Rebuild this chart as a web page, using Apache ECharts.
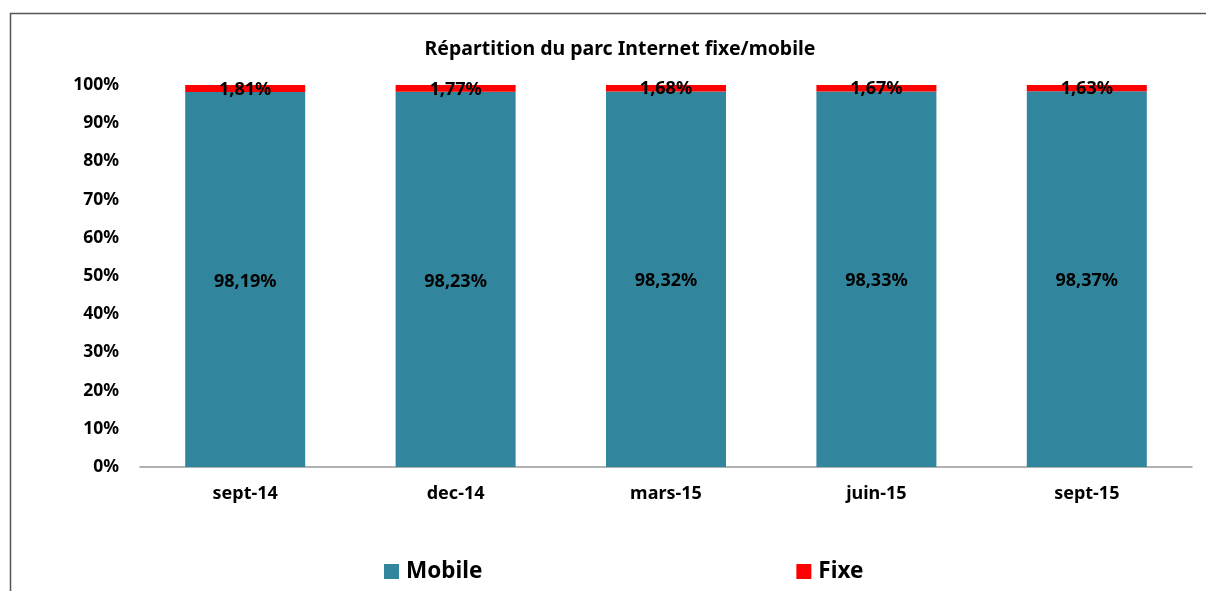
<!DOCTYPE html>
<html>
<head>
<meta charset="utf-8">
<script src="https://cdn.jsdelivr.net/npm/echarts@6/dist/echarts.min.js"></script>
<style>
  html, body { margin: 0; padding: 0; background: #fff; }
  #main { width: 1206px; height: 591px; }
</style>
</head>
<body>
<div id="main"></div>
<script>
// données
var categories = ['sept-14', 'dec-14', 'mars-15', 'juin-15', 'sept-15'];
var mobile = [98.19, 98.23, 98.32, 98.33, 98.37];
var fixe = [1.81, 1.77, 1.68, 1.67, 1.63];
var yTicks = [0, 10, 20, 30, 40, 50, 60, 70, 80, 90, 100];

var font = '"Noto Sans", "Open Sans", sans-serif';

function pct(v) {
    return v.toFixed(2).replace('.', ',') + '%';
}

var option = {
    animation: false,
    textStyle: { fontFamily: font },
    title: {
        text: 'Répartition du parc Internet fixe/mobile',
        left: 615,
        textAlign: 'center',
        top: 34,
        textStyle: { fontFamily: font, fontSize: 19.5, fontWeight: 'bold', color: '#000' }
    },
    graphic: [{
        type: 'rect',
        shape: { x: 10.5, y: 13.5, width: 1300, height: 700 },
        style: { fill: 'none', stroke: '#555', lineWidth: 1.5 },
        silent: true
    }],
    legend: {
        data: ['Mobile', 'Fixe'],
        left: 379,
        top: 555,
        itemWidth: 15,
        itemHeight: 15,
        itemGap: 314,
        icon: 'rect',
        textStyle: { fontFamily: font, fontSize: 22.5, fontWeight: 'bold', color: '#000', padding: [0, 0, 0, 2] }
    },
    grid: {
        left: 140,
        right: 14,
        top: 85,
        bottom: 124
    },
    xAxis: {
        type: 'category',
        data: categories,
        axisTick: { show: false },
        axisLine: { lineStyle: { color: '#999', width: 1.5 } },
        axisLabel: { color: '#000', fontFamily: font, fontSize: 18, fontWeight: 'bold', margin: 18 }
    },
    yAxis: {
        type: 'value',
        min: yTicks[0],
        max: yTicks[yTicks.length - 1],
        interval: 10,
        splitLine: { show: false },
        axisLine: { show: false },
        axisTick: { show: false },
        axisLabel: {
            color: '#000', fontFamily: font, fontSize: 17.5, fontWeight: 'bold', margin: 21,
            formatter: '{value}%'
        }
    },
    series: [
        {
            name: 'Mobile',
            type: 'bar',
            stack: 'parc',
            barWidth: 120,
            data: mobile,
            itemStyle: { color: '#31859C' },
            label: {
                show: true, position: 'inside', color: '#000',
                fontFamily: font, fontSize: 18, fontWeight: 'bold',
                offset: [0, 2],
                formatter: function (p) { return pct(p.value); }
            }
        },
        {
            name: 'Fixe',
            type: 'bar',
            stack: 'parc',
            barWidth: 120,
            data: fixe,
            itemStyle: { color: '#FF0000' },
            label: {
                show: true, position: 'inside', color: '#000',
                fontFamily: font, fontSize: 18, fontWeight: 'bold',
                offset: [0, 1],
                formatter: function (p) { return pct(p.value); }
            }
        }
    ]
};

var myChart = echarts.init(document.getElementById('main'));
myChart.setOption(option);
</script>
</body>
</html>
